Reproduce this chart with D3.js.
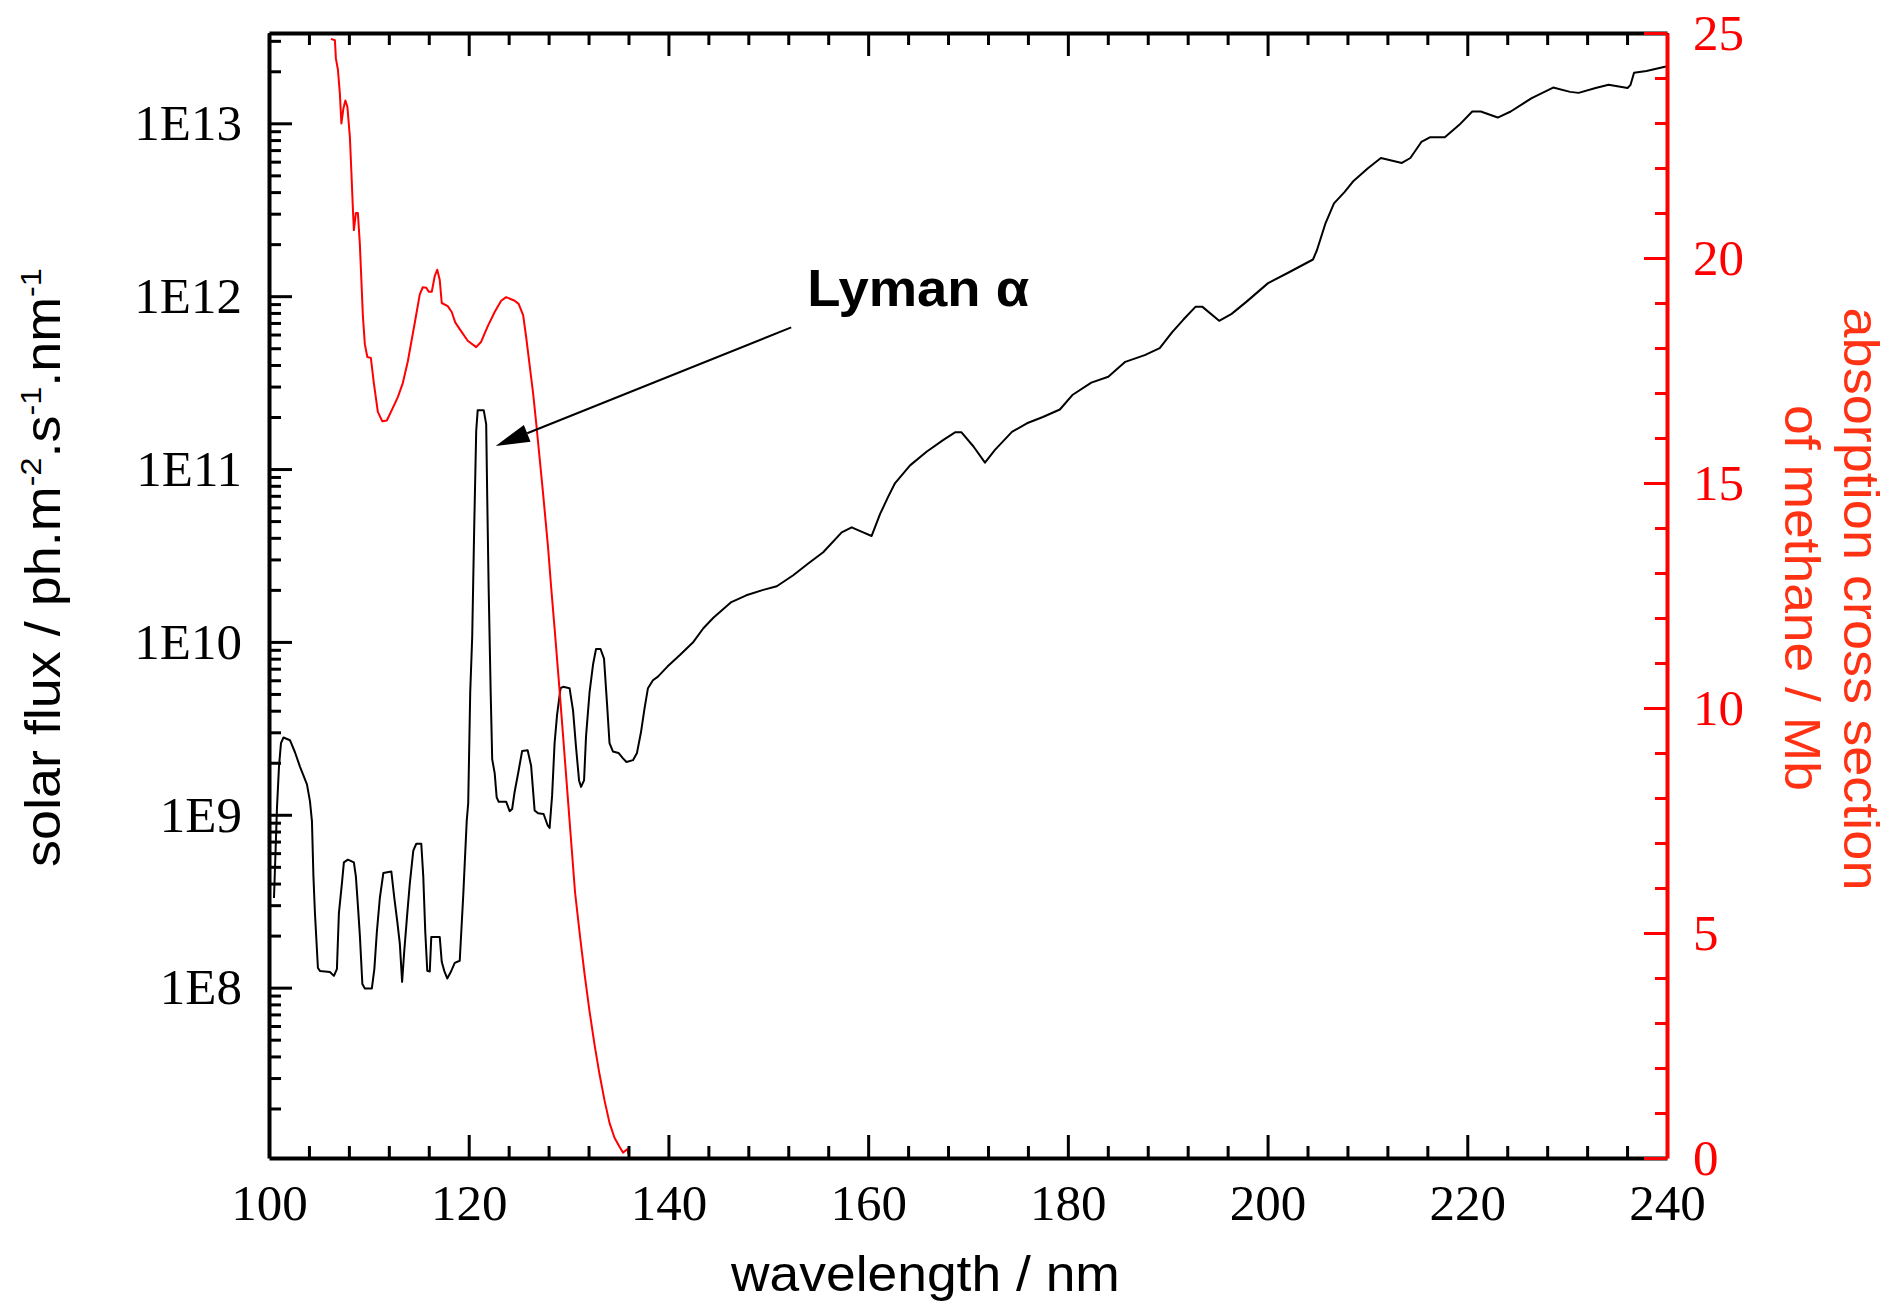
<!DOCTYPE html>
<html>
<head>
<meta charset="utf-8">
<script src="https://cdn.jsdelivr.net/npm/d3@7"></script>
<style>
  body { margin: 0; background: #fff; }
  svg { display: block; }
</style>
</head>
<body>
<div id="chart"></div>
<script>
// solar flux: wavelength (nm) and ph.m-2.s-1.nm-1
const fluxWavelength = [
  100.5, 100.8, 101.0, 101.2, 101.45, 102.1, 102.6, 103.1, 103.8, 104.1,
  104.3, 104.45, 104.6, 104.9, 105.1, 106.1, 106.5, 106.8, 107.0, 107.3,
  107.5, 107.9, 108.5, 108.7, 108.9, 109.1, 109.35, 109.6, 110.3, 110.55,
  110.8, 111.1, 111.45, 112.25, 112.55, 112.85, 113.1, 113.33, 113.55, 113.85,
  114.1, 114.45, 114.75, 115.25, 115.45, 115.65, 115.85, 116.1, 116.25, 117.1,
  117.3, 117.55, 117.85, 118.2, 118.6, 119.1, 119.45, 119.8, 119.95, 120.15,
  120.35, 120.55, 120.75, 120.9, 121.5, 121.75, 121.85, 122.0, 122.2, 122.35,
  122.6, 122.8, 123.0, 123.75, 124.1, 124.35, 124.6, 124.95, 125.35, 125.9,
  126.25, 126.6, 126.95, 127.5, 127.9, 128.1, 128.35, 128.6, 128.85, 129.2,
  129.45, 130.1, 130.45, 130.75, 131.05, 131.25, 131.55, 131.75, 132.1, 132.45,
  132.75, 133.2, 133.55, 133.85, 134.1, 134.45, 135.0, 135.45, 135.8, 136.45,
  136.85, 137.25, 137.6, 137.95, 138.45, 138.95, 139.9, 141.15, 142.5, 143.5,
  144.5, 146.3, 147.8, 149.5, 150.85, 152.5, 154.0, 155.5, 157.35, 158.35,
  159.5, 160.35, 161.2, 162.0, 162.7, 164.2, 165.85, 167.5, 168.7, 169.35,
  170.55, 171.7, 172.7, 174.4, 175.9, 177.5, 179.2, 180.45, 182.35, 184.05,
  185.75, 187.7, 189.2, 190.45, 191.55, 192.8, 193.45, 195.15, 196.4, 197.9,
  200.05, 202.2, 204.55, 204.95, 205.8, 206.65, 207.7, 208.55, 210.05, 211.35,
  213.45, 214.3, 215.4, 216.25, 217.75, 219.2, 220.5, 221.35, 223.05, 224.35,
  226.45, 228.6, 230.3, 231.15, 232.85, 234.15, 236.05, 236.35, 236.7, 237.95,
  239.9
];
const fluxValue = [
  3.3e8, 1.1e9, 1.9e9, 2.6e9, 2.8e9, 2.7e9, 2.3e9, 1.9e9, 1.5e9, 1.2e9,
  9.2e8, 4.4e8, 2.7e8, 1.3e8, 1.25e8, 1.23e8, 1.17e8, 1.28e8, 2.7e8, 4.0e8,
  5.3e8, 5.5e8, 5.3e8, 4.4e8, 3.0e8, 2.0e8, 1.05e8, 9.9e7, 9.9e7, 1.28e8,
  2.1e8, 3.3e8, 4.6e8, 4.7e8, 3.3e8, 2.4e8, 1.8e8, 1.08e8, 1.64e8, 2.7e8,
  4.0e8, 6.2e8, 6.8e8, 6.8e8, 4.4e8, 2.1e8, 1.25e8, 1.24e8, 1.96e8, 1.96e8,
  1.41e8, 1.25e8, 1.13e8, 1.23e8, 1.39e8, 1.43e8, 3.4e8, 9.2e8, 1.17e9, 5.1e9,
  1.07e10, 4.6e10, 1.66e11, 2.19e11, 2.19e11, 1.82e11, 7.1e10, 2.0e10, 5.1e9, 2.1e9,
  1.74e9, 1.26e9, 1.19e9, 1.19e9, 1.05e9, 1.08e9, 1.36e9, 1.74e9, 2.34e9, 2.36e9,
  1.92e9, 1.06e9, 1.02e9, 1.01e9, 8.7e8, 8.4e8, 1.29e9, 2.6e9, 3.8e9, 5.4e9,
  5.5e9, 5.4e9, 4.0e9, 2.45e9, 1.58e9, 1.45e9, 1.58e9, 2.85e9, 5.1e9, 7.4e9,
  9.1e9, 9.1e9, 8.0e9, 4.4e9, 2.6e9, 2.32e9, 2.28e9, 2.12e9, 2.02e9, 2.07e9,
  2.28e9, 3.0e9, 4.1e9, 5.4e9, 6.0e9, 6.3e9, 7.2e9, 8.4e9, 1.0e10, 1.2e10,
  1.38e10, 1.7e10, 1.86e10, 2.0e10, 2.1e10, 2.43e10, 2.84e10, 3.3e10, 4.3e10, 4.6e10,
  4.3e10, 4.1e10, 5.5e10, 6.9e10, 8.3e10, 1.05e11, 1.26e11, 1.47e11, 1.63e11, 1.63e11,
  1.35e11, 1.09e11, 1.29e11, 1.64e11, 1.84e11, 2.0e11, 2.21e11, 2.68e11, 3.16e11, 3.42e11,
  4.17e11, 4.56e11, 5.0e11, 6.2e11, 7.3e11, 8.7e11, 8.7e11, 7.2e11, 7.9e11, 9.3e11,
  1.19e12, 1.38e12, 1.63e12, 1.85e12, 2.64e12, 3.44e12, 4.0e12, 4.6e12, 5.5e12, 6.3e12,
  5.9e12, 6.3e12, 7.8e12, 8.3e12, 8.3e12, 9.8e12, 1.17e13, 1.17e13, 1.08e13, 1.17e13,
  1.40e13, 1.61e13, 1.52e13, 1.50e13, 1.60e13, 1.67e13, 1.60e13, 1.67e13, 1.96e13, 2.01e13,
  2.13e13
];

// methane absorption cross section: wavelength (nm) and Mb
const xsWavelength = [
  106.2, 106.6, 106.7, 106.9, 107.1, 107.25, 107.45, 107.65, 107.85, 108.1,
  108.25, 108.4, 108.5, 108.7, 108.9, 109.1, 109.25, 109.4, 109.6, 109.85,
  110.2, 110.5, 110.9, 111.35, 111.8, 112.4, 112.9, 113.4, 113.9, 114.6,
  115.1, 115.4, 115.75, 116.0, 116.3, 116.6, 116.85, 117.1, 117.3, 117.9,
  118.3, 118.65, 119.1, 119.9, 120.75, 121.25, 121.9, 122.6, 123.25, 123.75,
  124.6, 125.0, 125.45, 125.75, 126.1, 126.45, 126.75, 127.1, 127.45, 127.95,
  128.25, 128.6, 129.05, 129.45, 129.85, 130.25, 130.65, 131.15, 131.6, 132.1,
  132.6, 133.1, 133.6, 134.1, 134.6, 135.1, 135.45, 135.9, 136.0
];
const xsValue = [
  24.87, 24.84, 24.43, 24.19, 23.64, 22.99, 23.32, 23.5, 23.36, 22.69,
  21.91, 21.1, 20.62, 21.0, 21.0, 20.3, 19.51, 18.72, 18.08, 17.8,
  17.78, 17.22, 16.58, 16.37, 16.39, 16.67, 16.91, 17.22, 17.7, 18.56,
  19.19, 19.35, 19.34, 19.25, 19.25, 19.6, 19.74, 19.51, 19.0, 18.93,
  18.8, 18.57, 18.42, 18.16, 18.02, 18.14, 18.48, 18.8, 19.05, 19.13,
  19.05, 18.98, 18.73, 18.25, 17.62, 16.99, 16.35, 15.56, 14.76, 13.56,
  12.7, 11.77, 10.53, 9.38, 8.22, 7.06, 5.9, 4.92, 4.09, 3.26,
  2.52, 1.86, 1.28, 0.78, 0.45, 0.25, 0.12, 0.2, 0.08
];

// ticks and labels
const xMajorTicks = [100, 120, 140, 160, 180, 200, 220, 240];
const xMinorTicks = d3.range(100, 241, 4).filter(v => v % 20 !== 0);
const fluxMajorTicks = [1e8, 1e9, 1e10, 1e11, 1e12, 1e13];
const fluxTickLabels = ["1E8", "1E9", "1E10", "1E11", "1E12", "1E13"];
const xsMajorTicks = [0, 5, 10, 15, 20, 25];
const xsMinorTicks = d3.range(0, 26, 1).filter(v => v % 5 !== 0);

// annotation (data units)
const lymanLabel = {text: "Lyman \u03b1", at: [153.9, 8.75e11]};
const lymanArrow = {from: [152.3, 6.6e11], to: [122.7, 1.36e11]};

const width = 1894, height = 1305;
const margin = {top: 33, right: 227, bottom: 147, left: 269};
const w = width - margin.left - margin.right;
const h = height - margin.top - margin.bottom;

const serif = "'Liberation Serif', 'Times New Roman', serif";
const sans = "'Liberation Sans', Arial, Helvetica, sans-serif";
const red = "#ff0000";
const titleRed = "#ff3214";

const svg = d3.select("#chart").append("svg")
    .attr("width", width)
    .attr("height", height);

const g = svg.append("g")
    .attr("transform", `translate(${margin.left},${margin.top})`);

const x = d3.scaleLinear().domain([100, 240]).range([0, w]);
const yFlux = d3.scaleLog().domain([1.034e7, 3.33e13]).range([h, 0]);
const yXs = d3.scaleLinear().domain([0, 25]).range([h, 0]);

// log minor ticks 2..9 inside the domain
const fluxMinorTicks = [];
for (let e = 7; e <= 13; e++) {
    for (let m = 2; m <= 9; m++) {
        const v = m * Math.pow(10, e);
        if (v >= yFlux.domain()[0] && v <= yFlux.domain()[1]) fluxMinorTicks.push(v);
    }
}

// curves
const fluxData = fluxWavelength.map((d, i) => ({x: d, y: fluxValue[i]}));
const xsData = xsWavelength.map((d, i) => ({x: d, y: xsValue[i]}));

g.append("path")
    .datum(fluxData)
    .attr("fill", "none")
    .attr("stroke", "#000")
    .attr("stroke-width", 2)
    .attr("stroke-linejoin", "round")
    .attr("d", d3.line().x(d => x(d.x)).y(d => yFlux(d.y)));

g.append("path")
    .datum(xsData)
    .attr("fill", "none")
    .attr("stroke", red)
    .attr("stroke-width", 2)
    .attr("stroke-linejoin", "round")
    .attr("d", d3.line().x(d => x(d.x)).y(d => yXs(d.y)));

// axes
function styleAxis(sel, color) {
    sel.attr("font-family", serif).attr("font-size", 51);
    sel.select(".domain").attr("stroke", color).attr("stroke-width", 4);
    sel.selectAll(".tick line").attr("stroke", color).attr("stroke-width", 3);
    sel.selectAll(".tick text").attr("fill", color);
}
function minorAxis(sel, color) {
    sel.select(".domain").remove();
    sel.selectAll(".tick line").attr("stroke", color).attr("stroke-width", 3);
    sel.selectAll(".tick text").remove();
}

// bottom
g.append("g").attr("transform", `translate(0,${h})`)
    .call(d3.axisBottom(x).tickValues(xMinorTicks).tickSize(-12).tickFormat(""))
    .call(minorAxis, "#000");
g.append("g").attr("transform", `translate(0,${h})`)
    .call(d3.axisBottom(x).tickValues(xMajorTicks).tickSize(-23).tickSizeOuter(0)
        .tickPadding(26).tickFormat(d3.format("d")))
    .call(styleAxis, "#000");

// top
g.append("g")
    .call(d3.axisTop(x).tickValues(xMinorTicks).tickSize(-12).tickFormat(""))
    .call(minorAxis, "#000");
g.append("g")
    .call(d3.axisTop(x).tickValues(xMajorTicks).tickSize(-23).tickSizeOuter(0).tickFormat(""))
    .call(styleAxis, "#000");

// left (log)
g.append("g")
    .call(d3.axisLeft(yFlux).tickValues(fluxMinorTicks).tickSize(-12).tickFormat(""))
    .call(minorAxis, "#000");
g.append("g")
    .call(d3.axisLeft(yFlux).tickValues(fluxMajorTicks).tickSize(-23).tickSizeOuter(0)
        .tickPadding(27).tickFormat((d, i) => fluxTickLabels[i]))
    .call(styleAxis, "#000");

// right (cross section)
g.append("g").attr("transform", `translate(${w},0)`)
    .call(d3.axisRight(yXs).tickValues(xsMinorTicks).tickSize(-12).tickFormat(""))
    .call(minorAxis, red);
g.append("g").attr("transform", `translate(${w},0)`)
    .call(d3.axisRight(yXs).tickValues(xsMajorTicks).tickSize(-23).tickSizeOuter(0)
        .tickPadding(26).tickFormat(d3.format("d")))
    .call(styleAxis, red);

// fit a text element to a target length along its own direction
function fit(text, target, tf) {
    const len = text.node().getBBox().width;
    text.attr("transform", `${tf} scale(${target / len},1)`);
}

// axis titles
const xTitle = svg.append("text")
    .attr("font-family", sans).attr("font-size", 50).attr("fill", "#000")
    .text("wavelength / nm");
fit(xTitle, 390, "translate(731,1291)");

const yTitle = svg.append("text")
    .attr("font-family", sans).attr("font-size", 50).attr("fill", "#000");
yTitle.append("tspan").text("solar flux / ph.m");
yTitle.append("tspan").attr("font-size", 30).attr("dy", -19).text("-2");
yTitle.append("tspan").attr("dy", 19).text(".s");
yTitle.append("tspan").attr("font-size", 30).attr("dy", -19).text("-1");
yTitle.append("tspan").attr("dy", 19).text(".nm");
yTitle.append("tspan").attr("font-size", 30).attr("dy", -19).text("-1");
fit(yTitle, 599, "translate(60,867) rotate(-90)");

const rTitle1 = svg.append("text")
    .attr("font-family", sans).attr("font-size", 50).attr("fill", titleRed)
    .attr("text-anchor", "middle")
    .text("absorption cross section");
fit(rTitle1, 583, "translate(1844,599) rotate(90)");

const rTitle2 = svg.append("text")
    .attr("font-family", sans).attr("font-size", 50).attr("fill", titleRed)
    .attr("text-anchor", "middle")
    .text("of methane / Mb");
fit(rTitle2, 386, "translate(1785,598) rotate(90)");

// Lyman alpha annotation
const lx = x(lymanLabel.at[0]) + margin.left;
const ly = yFlux(lymanLabel.at[1]) + margin.top;
const lyman = svg.append("text")
    .attr("font-family", sans).attr("font-size", 52).attr("font-weight", "bold")
    .attr("fill", "#000")
    .text(lymanLabel.text);
fit(lyman, 222, `translate(${lx},${ly})`);

const x0 = x(lymanArrow.from[0]), y0 = yFlux(lymanArrow.from[1]);
const x1 = x(lymanArrow.to[0]), y1 = yFlux(lymanArrow.to[1]);
const ang = Math.atan2(y1 - y0, x1 - x0);
const headLen = 34, headHalf = 9;
const bx = x1 - headLen * Math.cos(ang), by = y1 - headLen * Math.sin(ang);

g.append("line")
    .attr("x1", x0).attr("y1", y0)
    .attr("x2", bx).attr("y2", by)
    .attr("stroke", "#000").attr("stroke-width", 2);

g.append("path")
    .attr("d", `M${x1},${y1}` +
        `L${bx + headHalf * Math.sin(ang)},${by - headHalf * Math.cos(ang)}` +
        `L${bx - headHalf * Math.sin(ang)},${by + headHalf * Math.cos(ang)}Z`)
    .attr("fill", "#000");
</script>
</body>
</html>
